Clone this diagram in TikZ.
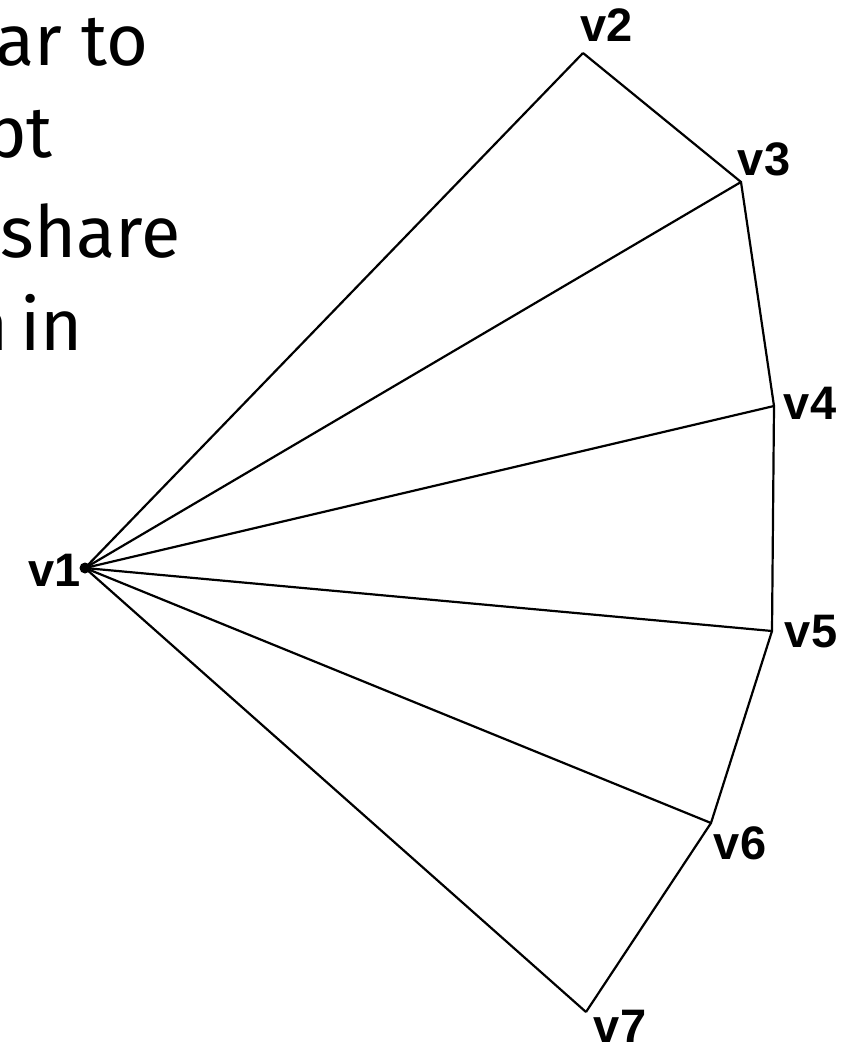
\documentclass[tikz,border=0pt]{standalone}
\usepackage{fontspec}
\setmainfont{Fira Sans}
\newfontfamily\labelfont{Liberation Sans}
\begin{document}
\begin{tikzpicture}[x=1pt,y=-1pt,
  vlabel/.style={font=\labelfont\bfseries\fontsize{47}{47}\selectfont,inner sep=0pt},
  edge/.style={line width=2.2pt,black},
  prose/.style={font=\fontsize{72}{72}\selectfont,inner sep=0pt,anchor=base east}]
\useasboundingbox (0,0) rectangle (843,1044);
\clip (0,0) rectangle (843,1044);

% fragment of running text on the left
\node[prose] (t1) at (149,65) {ar to};
\node[prose] (t2) at (53,157) {pt};
\node[prose] (t3) at (181,257) {share};
\node[prose] (t4) at (83,350) {in};
\node[prose] (t5) at (9,350) {n};

% vertices of the fan
\coordinate (v1) at (85,568);
\coordinate (v2) at (583,53);
\coordinate (v3) at (741,182);
\coordinate (v4) at (774,406);
\coordinate (v5) at (772,631);
\coordinate (v6) at (711,823);
\coordinate (v7) at (586,1012);

% edges from the hub
\foreach \w in {v2,v3,v4,v5,v6,v7}
  \draw[edge] (v1) -- (\w);
% outer path
\draw[edge,line join=miter] (v2) -- (v3) -- (v4) -- (v5) -- (v6) -- (v7);
\fill (v1) circle (5.5);

% vertex labels
\node[vlabel] (l1) at (55,570) {v1};
\node[vlabel] (l2) at (607,25) {v2};
\node[vlabel] (l3) at (764,159) {v3};
\node[vlabel] (l4) at (810,403) {v4};
\node[vlabel] (l5) at (811,632) {v5};
\node[vlabel] (l6) at (740,843) {v6};
\node[vlabel] (l7) at (620,1026) {v7};
\end{tikzpicture}
\end{document}
